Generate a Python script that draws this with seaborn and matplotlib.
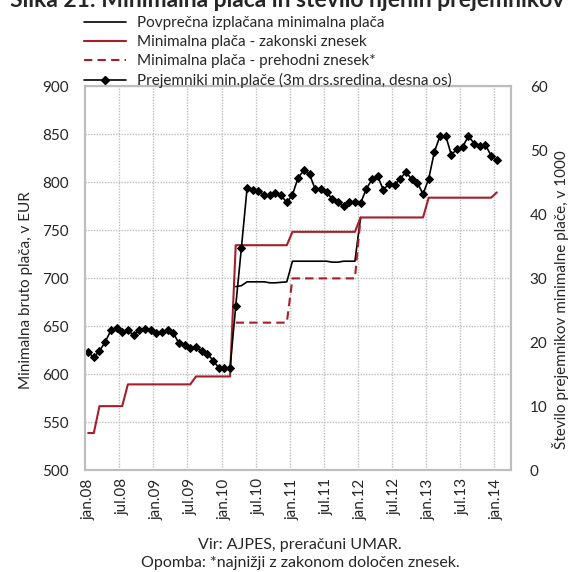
import numpy as np
import pandas as pd
import seaborn as sns
import matplotlib.pyplot as plt
from matplotlib.lines import Line2D

# monthly data, jan.08 - jan.14
month_idx = list(range(73))
tick_labels = ['jan.08', 'jul.08', 'jan.09', 'jul.09', 'jan.10', 'jul.10', 'jan.11',
               'jul.11', 'jan.12', 'jul.12', 'jan.13', 'jul.13', 'jan.14']

# legal minimum wage, EUR
zakonski = ([538.53] * 2 + [566.53] * 5 + [589.19] * 12 + [597.43] * 7 +
            [734.15] * 10 + [748.10] * 12 + [763.06] * 12 + [783.66] * 12 + [789.15])

# transitional amount (from mar.10)
prehodni = [np.nan] * 26 + [653.5] * 10 + [699.6] * 12 + [763.06] + [np.nan] * 24

# average paid minimum wage (from mar.10)
povprecna = ([np.nan] * 26 +
             [691.0, 692.0, 696.0, 696.0, 696.0, 696.0, 695.0, 695.0, 695.5, 696.0,
              717.5, 717.5, 717.5, 717.5, 717.5, 717.5, 717.5, 716.5, 716.5, 717.5,
              717.5, 717.5, 763.06] + [np.nan] * 24)

# recipients of minimum wage, thousands (3m moving average, right axis)
prejemniki = [18.4, 17.6, 18.6, 20.0, 21.8, 22.2, 21.5, 21.8, 21.1, 21.8,
              22.1, 21.8, 21.4, 21.6, 21.8, 21.4, 19.8, 19.5, 19.0, 19.2,
              18.6, 18.2, 17.1, 16.0, 15.9, 15.9, 25.6, 34.7, 44.0, 43.75,
              43.6, 43.0, 42.9, 43.3, 42.9, 41.8, 43.0, 45.7, 46.8, 46.2,
              43.9, 43.9, 43.5, 42.3, 41.8, 41.3, 41.8, 41.8, 41.7, 43.9,
              45.4, 45.9, 43.8, 44.7, 44.6, 45.5, 46.6, 45.4, 44.9, 43.1,
              45.5, 49.7, 52.2, 52.2, 49.2, 50.2, 50.5, 52.2, 51.0, 50.6,
              50.8, 49.1, 48.4]

df = pd.DataFrame({'i': month_idx, 'zakonski': zakonski, 'prehodni': prehodni,
                   'povprecna': povprecna, 'prejemniki': prejemniki})

sns.set_style('white')
plt.rcParams['font.family'] = ['Lato', 'DejaVu Sans']
plt.rcParams['font.size'] = 11

red = '#a51e2a'
grid_c = '#bdbdbd'

fig = plt.figure(figsize=(5.74, 5.72), dpi=100)
ax = fig.add_axes([85.3 / 574, 1 - 470 / 572, (511 - 85.3) / 574, (470 - 86) / 572])

sns.lineplot(data=df, x='i', y='povprecna', ax=ax, color='black', lw=1.2)
sns.lineplot(data=df, x='i', y='prehodni', ax=ax, color=red, lw=1.5)
ax.lines[-1].set_linestyle((0, (4, 2.5)))
sns.lineplot(data=df, x='i', y='zakonski', ax=ax, color=red, lw=1.5)

ax.set_xlim(-0.5, 74.5)
ax.set_ylim(500, 900)
ax.set_yticks(range(500, 901, 50))
ax.set_xticks(range(0, 73, 6))
ax.set_xticklabels(tick_labels, rotation=90)
ax.set_xticks(np.arange(5.5, 72, 6), minor=True)
ax.tick_params(axis='x', which='both', length=0, pad=6, labelsize=11)
ax.tick_params(axis='y', length=0, pad=12, labelsize=11)
ax.grid(False)
ax.grid(True, which='minor', axis='x', color=grid_c, ls=(0, (1, 1)), lw=1)
ax.grid(True, which='major', axis='y', color=grid_c, ls=(0, (1, 1)), lw=1)
ax.set_xlabel('')
ax.set_ylabel('Minimalna bruto plača, v EUR', fontsize=11)
ax.yaxis.set_label_coords(-0.123, 0.469)

ax2 = ax.twinx()
sns.lineplot(data=df, x='i', y='prejemniki', ax=ax2, color='black', lw=1.2,
             marker='D', markersize=4.5, markeredgecolor='black')
ax2.set_ylim(0, 60)
ax2.set_yticks(range(0, 61, 10))
ax2.tick_params(axis='y', length=0, pad=13.5, labelsize=11)
ax2.set_ylabel('Število prejemnikov minimalne plače, v 1000', fontsize=11)
ax2.yaxis.set_label_coords(1.096, 0.443)
ax2.set_xlabel('')

for a in (ax, ax2):
    for s in a.spines.values():
        s.set_color(grid_c)
        s.set_linewidth(1.5)

handles = [Line2D([], [], color='black', lw=1.2),
           Line2D([], [], color=red, lw=1.5),
           Line2D([], [], color=red, lw=1.5, ls=(0, (4, 2.5))),
           Line2D([], [], color='black', lw=1.2, marker='D', markersize=4)]
labels = ['Povprečna izplačana minimalna plača',
          'Minimalna plača - zakonski znesek',
          'Minimalna plača - prehodni znesek*',
          'Prejemniki min.plače (3m drs.sredina, desna os)']
fig.legend(handles, labels, loc='upper left', bbox_to_anchor=(84 / 574, 1 - 16 / 572),
           frameon=False, handlelength=2.75, handletextpad=0.7, labelspacing=0.33,
           borderaxespad=0, borderpad=0, fontsize=11)

fig.text(287 / 574, 1 - 7 / 572, 'Slika 21: Minimalna plača in število njenih prejemnikov',
         ha='center', va='baseline', fontsize=16.5, fontweight='bold')
fig.text(300 / 574, 1 - 545 / 572, 'Vir: AJPES, preračuni UMAR.', ha='center', va='center',
         fontsize=11.5)
fig.text(300 / 574, 1 - 563 / 572, 'Opomba: *najnižji z zakonom določen znesek.',
         ha='center', va='center', fontsize=11.5)

fig.savefig('out.png', dpi=100)
